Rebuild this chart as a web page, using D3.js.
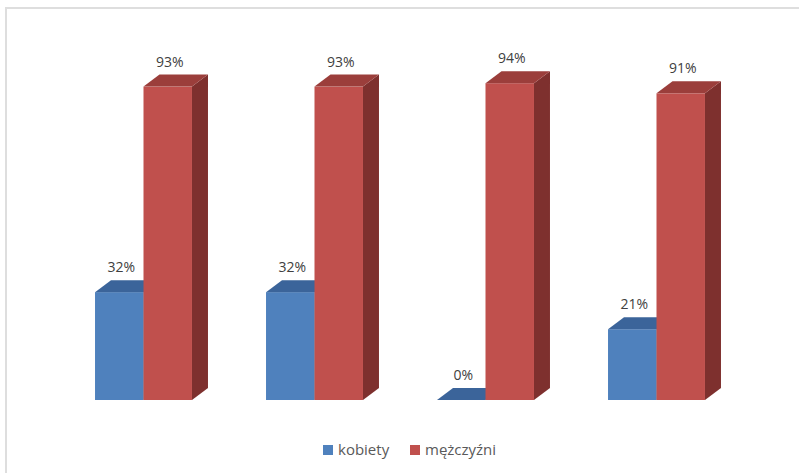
<!DOCTYPE html>
<html>
<head>
<meta charset="utf-8">
<script src="https://cdn.jsdelivr.net/npm/d3@7"></script>
<style>
  body { margin: 0; background: #fff; }
  text { font-family: "Open Sans", "Liberation Sans", sans-serif; }
</style>
</head>
<body>
<div id="chart"></div>
<script>
// data
var categories = ["A", "B", "C", "D"];
var seriesNames = ["kobiety", "mężczyźni"];
var kobiety = [32, 32, 0, 21];
var mezczyzni = [93, 93, 94, 91];

var svgWidth = 799;
var svgHeight = 473;

// colours: front, top, side
var colors = {
  "kobiety": { front: "#4f81bd", top: "#3b649a", side: "#345883" },
  "mężczyźni": { front: "#c0504d", top: "#9b3e3b", side: "#7e302e" }
};

// 3D depth offset
var dx = 16, dy = -12;
var baseY = 400;

var svg = d3.select("#chart")
  .append("svg")
  .attr("width", svgWidth)
  .attr("height", svgHeight);

// chart border (top and left visible, rest cropped)
svg.append("path")
  .attr("d", "M6,480 L6,8 L810,8")
  .attr("fill", "none")
  .attr("stroke", "#dedede")
  .attr("stroke-width", 2);

// scales
var x0 = d3.scaleBand()
  .domain(categories)
  .range([58, 742])
  .paddingInner(0.433)
  .paddingOuter(0.2165);

var x1 = d3.scaleBand()
  .domain(seriesNames)
  .range([0, x0.bandwidth()]);

var y = d3.scaleLinear()
  .domain([0, 100])
  .range([baseY, 63]);

var rows = categories.map(function(c, i) {
  return { cat: c, values: [
    { name: "kobiety", value: kobiety[i] },
    { name: "mężczyźni", value: mezczyzni[i] }
  ]};
});

var groups = svg.selectAll("g.group")
  .data(rows)
  .enter()
  .append("g")
  .attr("class", "group")
  .attr("transform", d => `translate(${x0(d.cat)},0)`);

var bars = groups.selectAll("g.bar")
  .data(d => d.values)
  .enter()
  .append("g")
  .attr("class", "bar");

// side face
bars.append("path")
  .attr("fill", d => colors[d.name].side)
  .attr("d", function(d) {
    var xr = x1(d.name) + x1.bandwidth();
    var yt = y(d.value);
    return `M${xr},${yt} L${xr + dx},${yt + dy} L${xr + dx},${baseY + dy} L${xr},${baseY} Z`;
  });

// front face
bars.append("rect")
  .attr("x", d => x1(d.name))
  .attr("y", d => y(d.value))
  .attr("width", x1.bandwidth())
  .attr("height", d => baseY - y(d.value))
  .attr("fill", d => colors[d.name].front);

// top face
bars.append("path")
  .attr("fill", d => colors[d.name].top)
  .attr("d", function(d) {
    var xl = x1(d.name);
    var xr = xl + x1.bandwidth();
    var yt = y(d.value);
    return `M${xl},${yt} L${xl + dx},${yt + dy} L${xr + dx},${yt + dy} L${xr},${yt} Z`;
  });

// data labels
bars.append("text")
  .attr("x", d => x1(d.name) + x1.bandwidth() / 2 + 2)
  .attr("y", d => y(d.value) + dy - 8)
  .attr("text-anchor", "middle")
  .attr("font-size", 14)
  .attr("fill", "#404040")
  .text(d => d.value + "%");

// legend
var legend = svg.append("g")
  .attr("transform", "translate(323,445)");

var legendX = [0, 87];
var items = legend.selectAll("g.item")
  .data(seriesNames)
  .enter()
  .append("g")
  .attr("class", "item")
  .attr("transform", (d, i) => `translate(${legendX[i]},0)`);

items.append("rect")
  .attr("width", 10)
  .attr("height", 10)
  .attr("fill", d => colors[d].front);

items.append("text")
  .attr("x", 15)
  .attr("y", 10)
  .attr("font-size", 15)
  .attr("fill", "#595959")
  .text(d => d);
</script>
</body>
</html>
